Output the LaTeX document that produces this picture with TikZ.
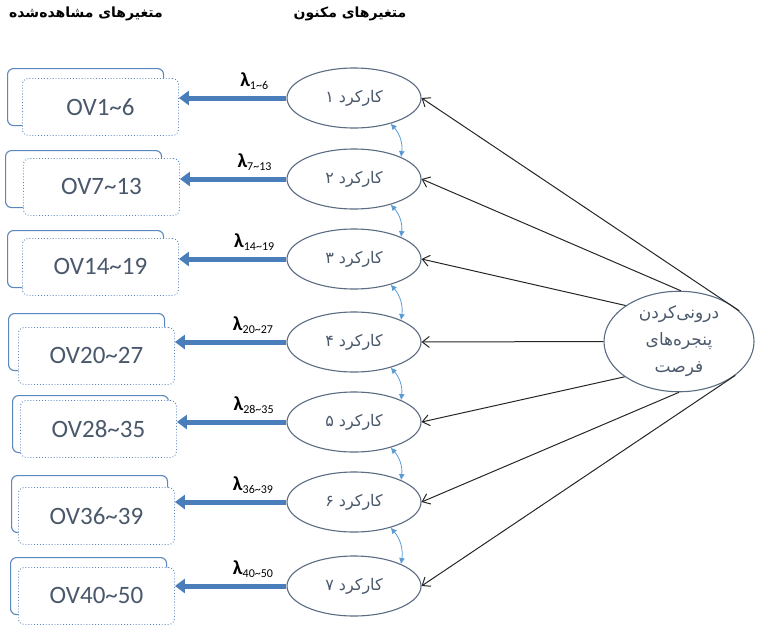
\documentclass[tikz,border=0pt]{standalone}
\usepackage{fontspec}
\usetikzlibrary{arrows.meta,shapes.geometric}
\TeXXeTstate=1
\newfontfamily\arfont[Script=Arabic]{DejaVu Sans}
\newfontfamily\calfont{Carlito}
\definecolor{bord}{HTML}{5A6B82}
\definecolor{txt}{HTML}{4A586C}
\definecolor{boxb}{HTML}{5B86BE}
\definecolor{arrb}{HTML}{4A7EBB}
\definecolor{corr}{HTML}{5B9BD5}
\newcommand{\lamlab}[1]{{\bfseries\fontsize{20}{20}\selectfont λ}\raisebox{-3pt}{\fontsize{12}{12}\selectfont #1}}
\begin{document}
\begin{tikzpicture}[x=1pt,y=-1pt,
 latent/.style={ellipse, draw=bord, line width=1.1pt, minimum width=134pt, minimum height=60pt, inner sep=0pt, text=txt, font=\arfont\fontsize{16}{18}\selectfont},
 backbox/.style={draw=boxb, line width=1.1pt, rounded corners=6pt, fill=white, minimum width=156pt, minimum height=57pt, anchor=north west},
 frontbox/.style={draw=boxb, dotted, line width=0.9pt, rounded corners=6pt, fill=white, minimum width=156pt, minimum height=57pt, anchor=north west, text=txt, font=\calfont\fontsize{25}{28}\selectfont},
 load/.style={draw=arrb, line width=5pt, -{Triangle[length=10pt,width=14pt]}},
 lam/.style={font=\calfont\fontsize{17}{18}\selectfont, text=black, inner sep=1pt},
 causal/.style={draw=black!85, line width=1pt, -{Straight Barb[length=7pt,width=11pt]}},
 corrarr/.style={draw=corr, line width=0.8pt, {Latex[length=6pt,width=6pt]}-{Latex[length=6pt,width=6pt]}},
 header/.style={font=\arfont\bfseries\fontsize{14}{16}\selectfont, text=black, inner sep=0pt},
]
\useasboundingbox (0,0) rectangle (757,624);

% headers
\node[header] (h1) at (86,14) {\beginR متغیرهای مشاهده‌شده\endR};
\node[header] (h2) at (350,14) {\beginR متغیرهای مکنون\endR};

% observed boxes
\node[backbox] (b1) at (7,68) {};
\node[frontbox] (f1) at (22,78) {OV1\textasciitilde6};
\node[backbox] (b2) at (5,150) {};
\node[frontbox] (f2) at (23,158) {OV7\textasciitilde13};
\node[backbox] (b3) at (7,230) {};
\node[frontbox] (f3) at (22,238) {OV14\textasciitilde19};
\node[backbox] (b4) at (8,313) {};
\node[frontbox] (f4) at (18,327) {OV20\textasciitilde27};
\node[backbox] (b5) at (12,395) {};
\node[frontbox] (f5) at (20,400) {OV28\textasciitilde35};
\node[backbox] (b6) at (11,475) {};
\node[frontbox] (f6) at (18,487) {OV36\textasciitilde39};
\node[backbox] (b7) at (10,557) {};
\node[frontbox] (f7) at (18,567) {OV40\textasciitilde50};

% latent ellipses
\node[latent] (l1) at (354,98) {\beginR کارکرد ۱\endR};
\node[latent] (l2) at (354,179) {\beginR کارکرد ۲\endR};
\node[latent] (l3) at (354,259) {\beginR کارکرد ۳\endR};
\node[latent] (l4) at (354,342) {\beginR کارکرد ۴\endR};
\node[latent] (l5) at (354,422) {\beginR کارکرد ۵\endR};
\node[latent] (l6) at (354,502) {\beginR کارکرد ۶\endR};
\node[latent] (l7) at (354,586) {\beginR کارکرد ۷\endR};

% big ellipse
\node[ellipse, draw=bord, line width=1.1pt, minimum width=150pt, minimum height=93pt, inner sep=0pt, text=txt, align=center, font=\arfont\fontsize{17}{27}\selectfont] (big) at (679,341.5)
 {\beginR درونی‌کردن\endR\\\beginR پنجره‌های\endR\\\beginR فرصت\endR};

% loadings
\draw[load] (l1.west) -- (l1.west -| f1.east) node[lam, pos=0.3, above=5pt] {\lamlab{1\textasciitilde6}};
\draw[load] (l2.west) -- (l2.west -| f2.east) node[lam, pos=0.3, above=5pt] {\lamlab{7\textasciitilde13}};
\draw[load] (l3.west) -- (l3.west -| f3.east) node[lam, pos=0.3, above=5pt] {\lamlab{14\textasciitilde19}};
\draw[load] (l4.west) -- (l4.west -| f4.east) node[lam, pos=0.3, above=5pt] {\lamlab{20\textasciitilde27}};
\draw[load] (l5.west) -- (l5.west -| f5.east) node[lam, pos=0.3, above=5pt] {\lamlab{28\textasciitilde35}};
\draw[load] (l6.west) -- (l6.west -| f6.east) node[lam, pos=0.3, above=5pt] {\lamlab{36\textasciitilde39}};
\draw[load] (l7.west) -- (l7.west -| f7.east) node[lam, pos=0.3, above=5pt] {\lamlab{40\textasciitilde50}};

% correlations
\draw[corrarr] (l1.-35) to[bend left=25] (l2.25);
\draw[corrarr] (l2.-35) to[bend left=25] (l3.25);
\draw[corrarr] (l3.-35) to[bend left=25] (l4.25);
\draw[corrarr] (l4.-35) to[bend left=25] (l5.25);
\draw[corrarr] (l5.-35) to[bend left=25] (l6.25);
\draw[corrarr] (l6.-35) to[bend left=25] (l7.25);

% causal paths
\draw[causal] (big.27) -- (l1.east);
\draw[causal] (big.88) -- (l2.east);
\draw[causal] (big.146) -- (l3.east);
\draw[causal] (big.west) -- (l4.east);
\draw[causal] (big.213) -- (l5.east);
\draw[causal] (big.270) -- (l6.east);
\draw[causal] (big.329) -- (l7.east);
\end{tikzpicture}
\end{document}
